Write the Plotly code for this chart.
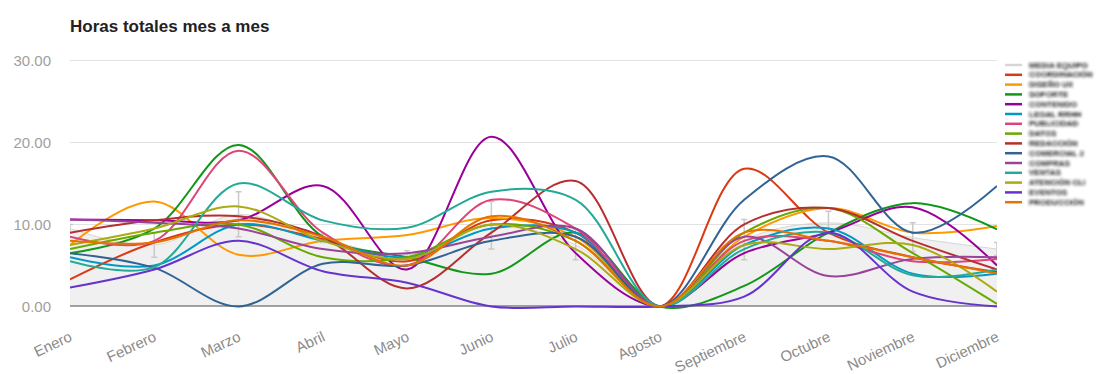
import plotly.graph_objects as go

# ---- data -------------------------------------------------------------
meses = ["Enero", "Febrero", "Marzo", "Abril", "Mayo", "Junio", "Julio",
         "Agosto", "Septiembre", "Octubre", "Noviembre", "Diciembre"]

nombres = ["MEDIA EQUIPO", "COORDINACIÓN", "DISEÑO UX", "SOPORTE",
           "CONTENIDO", "LEGAL RRHH", "PUBLICIDAD", "DATOS", "REDACCIÓN",
           "COMERCIAL 2", "COMPRAS", "VENTAS", "ATENCIÓN CLI",
           "EVENTOS", "PRODUCCIÓN"]

colores = ["#d6d6d6", "#dc3912", "#ff9900", "#109618", "#990099", "#0099c6",
           "#dd4477", "#66aa00", "#b82e2e", "#316395", "#994499", "#22aa99",
           "#aaaa11", "#6633cc", "#e67300"]

# team average with its spread
media = [9.5, 7.5, 11.2, 8.3, 6.3, 9.9, 7.5, 0.0, 8.1, 10.2, 8.4, 7.0]
media_sup = [0.5, 1.5, 2.8, 0.5, 0.5, 2.9, 1.9, 0.0, 2.5, 1.4, 1.8, 0.8]
media_inf = [0.5, 1.5, 2.7, 0.5, 0.5, 2.9, 1.8, 0.0, 2.4, 1.4, 1.7, 0.8]

s01 = [3.3, 7.8, 10.0, 8.2, 5.5, 10.5, 9.0, 0.0, 16.8, 9.0, 6.0, 4.2]
s02 = [7.5, 12.8, 6.3, 8.0, 8.7, 10.8, 8.5, 0.0, 8.5, 12.0, 9.0, 9.8]
s03 = [6.5, 9.5, 19.7, 8.5, 6.0, 4.0, 9.0, 0.0, 2.5, 9.0, 12.6, 9.4]
s04 = [10.6, 10.5, 10.5, 14.7, 4.5, 20.7, 6.5, 0.0, 6.5, 9.0, 12.1, 5.0]
s05 = [6.0, 5.0, 10.0, 8.0, 6.0, 9.5, 9.0, 0.0, 7.5, 9.5, 4.0, 4.0]
s06 = [8.5, 8.0, 19.0, 9.0, 5.0, 13.0, 9.5, 0.0, 8.0, 8.0, 5.5, 5.8]
s07 = [7.0, 9.0, 10.0, 6.0, 6.0, 10.0, 8.0, 0.0, 9.0, 12.0, 6.5, 0.3]
s08 = [9.0, 10.5, 11.0, 8.5, 2.2, 9.0, 15.3, 0.0, 10.0, 12.0, 8.0, 4.5]
s09 = [6.5, 4.7, 0.0, 5.2, 5.0, 8.0, 8.5, 0.0, 13.0, 18.3, 9.0, 14.7]
s10 = [10.6, 10.2, 9.5, 7.0, 6.5, 8.5, 9.5, 0.0, 8.5, 3.7, 5.8, 6.0]
s11 = [5.5, 4.8, 15.0, 10.5, 9.6, 14.0, 13.0, 0.0, 7.0, 9.0, 3.8, 4.5]
s12 = [7.5, 9.5, 12.2, 8.0, 5.8, 10.0, 7.0, 0.0, 7.5, 7.0, 7.5, 1.8]
s13 = [2.3, 4.5, 8.0, 4.3, 2.9, 0.0, 0.0, 0.0, 1.2, 9.0, 1.8, 0.0]
s14 = [8.0, 7.8, 10.5, 8.5, 5.0, 11.0, 8.0, 0.0, 9.0, 8.0, 6.0, 4.0]

series = [s01, s02, s03, s04, s05, s06, s07, s08, s09, s10, s11, s12, s13, s14]

y_ticks = [0, 10, 20, 30]

# ---- layout geometry (pixels) ------------------------------------------
W, H = 1099, 374
M_L, M_R, M_T, M_B = 70, 102, 58, 61
Y_MIN, Y_MAX = -0.8, 30.3

fig = go.Figure()

# average as a soft grey area with interval bars
fig.add_trace(go.Scatter(
    x=meses, y=media, name=nombres[0], mode="lines",
    line=dict(color=colores[0], width=1, shape="spline", smoothing=1.0),
    fill="tozeroy", fillcolor="rgba(0,0,0,0.06)",
    error_y=dict(type="data", array=media_sup, arrayminus=media_inf,
                 color="#c9c9c9", thickness=1.5, width=3),
    showlegend=False, hoverinfo="skip",
))

for nombre, color, valores in zip(nombres[1:], colores[1:], series):
    fig.add_trace(go.Scatter(
        x=meses, y=valores, name=nombre, mode="lines",
        line=dict(color=color, width=2, shape="spline", smoothing=1.0),
        showlegend=False,
    ))

# compact legend at the right: short coloured line + label
plot_w = W - M_L - M_R
plot_h = H - M_T - M_B
row0, row_step = 65, 9.8
shapes, annotations = [], []
for i, (nombre, color) in enumerate(zip(nombres, colores)):
    py = row0 + i * row_step
    yp = (H - M_B - py) / plot_h
    shapes.append(dict(type="line", xref="paper", yref="paper",
                       x0=(1005 - M_L) / plot_w, x1=(1022 - M_L) / plot_w,
                       y0=yp, y1=yp, line=dict(color=color, width=2.5)))
    annotations.append(dict(xref="paper", yref="paper",
                            x=(1027 - M_L) / plot_w, y=yp,
                            xanchor="left", yanchor="middle", showarrow=False,
                            text="<b>" + nombre + "</b>",
                            font=dict(family="Liberation Sans, Arial", size=8,
                                      color="#111111")))

fig.update_layout(
    width=W, height=H,
    margin=dict(l=M_L, r=M_R, t=M_T, b=M_B, autoexpand=False),
    paper_bgcolor="white", plot_bgcolor="white",
    font=dict(family="Liberation Sans, Arial, sans-serif"),
    title=dict(text="<b>Horas totales mes a mes</b>",
               x=M_L / W, xanchor="left", xref="container",
               y=1 - 26 / H, yanchor="middle", yref="container",
               font=dict(size=17, color="#222222")),
    shapes=shapes,
    annotations=annotations,
    showlegend=False,
)

fig.update_xaxes(
    type="category", range=[0, len(meses) - 1], automargin=False,
    showgrid=False, showline=False, zeroline=False, ticks="",
    tickangle=-25, ticklabelstandoff=12,
    tickfont=dict(size=15, color="#8a8a8a"),
)
fig.update_yaxes(
    range=[Y_MIN, Y_MAX], tickvals=y_ticks, tickformat=".2f", automargin=False,
    showgrid=True, gridcolor="#e2e2e2", gridwidth=1,
    zeroline=True, zerolinecolor="#a8a8a8", zerolinewidth=2,
    showline=False, ticks="", ticklabelstandoff=18,
    tickfont=dict(size=15, color="#a0a0a0"),
)

# the legend names are shown softened
post = """
var gd = document.getElementById('{plot_id}');
function suavizarNombres() {
  var ns = 'http://www.w3.org/2000/svg';
  var svg = gd.querySelector('svg.main-svg');
  if (!document.getElementById('nombres-suaves')) {
    var defs = svg.querySelector('defs');
    if (!defs) { defs = document.createElementNS(ns, 'defs'); svg.insertBefore(defs, svg.firstChild); }
    var f = document.createElementNS(ns, 'filter');
    f.setAttribute('id', 'nombres-suaves');
    f.setAttribute('x', '-20%'); f.setAttribute('y', '-80%');
    f.setAttribute('width', '140%'); f.setAttribute('height', '260%');
    var gb = document.createElementNS(ns, 'feGaussianBlur');
    gb.setAttribute('stdDeviation', '1.8');
    f.appendChild(gb); defs.appendChild(f);
  }
  gd.querySelectorAll('g.annotation').forEach(function (a) {
    a.setAttribute('filter', 'url(#nombres-suaves)');
  });
}
suavizarNombres();
gd.on('plotly_afterplot', suavizarNombres);
setTimeout(suavizarNombres, 50);
"""

fig.write_html("out.html", post_script=post)
